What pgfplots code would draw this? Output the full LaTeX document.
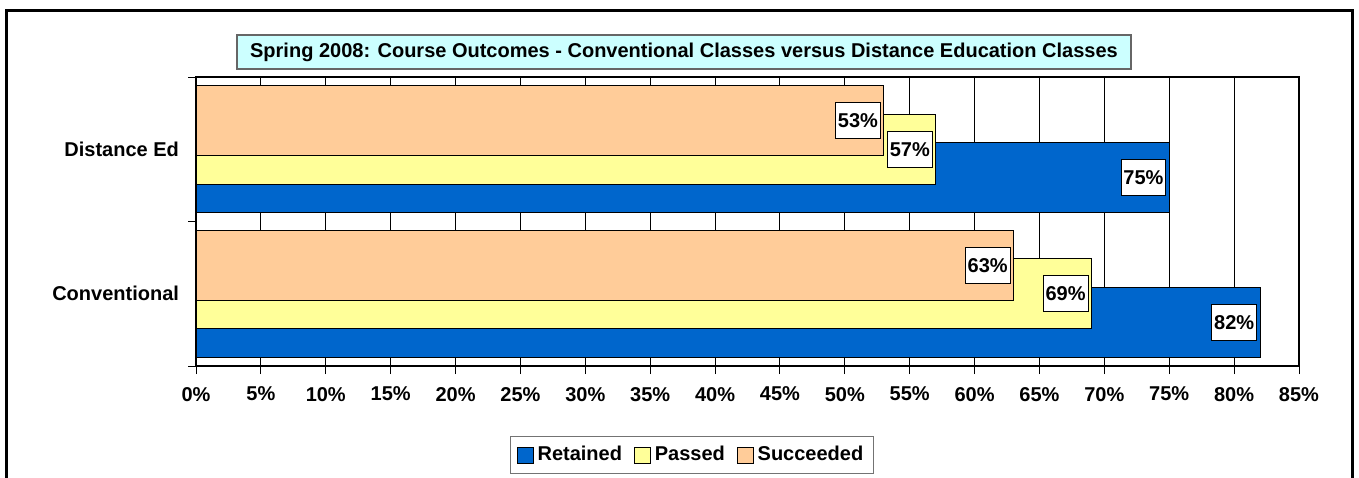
\documentclass[border=0pt]{standalone}
\usepackage{fontspec}
\setmainfont{Liberation Sans}
\usepackage{pgfplots}
\pgfplotsset{compat=1.18}

\definecolor{retblue}{HTML}{0066CC}
\definecolor{passyel}{HTML}{FFFF99}
\definecolor{succpeach}{HTML}{FFCC99}
\definecolor{titlecyan}{HTML}{CCFFFF}

\pgfplotsset{
    valuebox/.style={
        every node near coord/.append style={
            anchor=east, xshift=-1.5pt,
            draw=black, fill=white, line width=0.4pt,
            font=\fontsize{10}{12}\bfseries,
            inner xsep=1.2pt, inner ysep=0pt, minimum height=18pt}
    }
}

\begin{document}
\begin{tikzpicture}
\useasboundingbox (0,0) rectangle (679.5pt,238.5pt);
\clip (0,0) rectangle (679.5pt,238.5pt);
\begin{axis}[
    at={(98pt,55.5pt)}, anchor=south west,
    scale only axis,
    width=551.5pt, height=144.5pt,
    xbar,
    bar width=0.484,
    xmin=0, xmax=85,
    ymin=-0.5, ymax=1.5,
    xtick={0,5,...,85},
    xticklabel={\pgfmathprintnumber{\tick}\%},
    ytick={-0.5,0.5,1.5},
    yticklabels={,,},
    extra y ticks={0,1},
    extra y tick labels={Conventional,Distance Ed},
    extra y tick style={major tick length=0pt, yticklabel style={xshift=-5pt}},
    xtick pos=bottom, ytick pos=left,
    tick align=outside,
    major tick length=4pt,
    tick style={black, line width=0.5pt},
    xmajorgrids,
    major grid style={black, line width=0.5pt},
    axis line style={black, line width=0.6pt},
    /pgf/number format/assume math mode=true,
    ticklabel style={font=\fontsize{10}{12}\bfseries},
    xticklabel style={yshift=-3pt},
    point meta=x,
    nodes near coords={\pgfmathprintnumber{\pgfplotspointmeta}\%},
    legend columns=3,
    legend image code/.code={\draw[#1, draw=black, line width=0.4pt] (0pt,-4pt) rectangle (8pt,4pt);},
    legend style={
        at={(0.4497,-0.308)}, anchor=center,
        draw=black!55, line width=0.6pt,
        font=\fontsize{10}{12}\bfseries,
        inner xsep=3pt, inner ysep=3pt,
        /tikz/every even column/.append style={column sep=4pt}
    },
]

% Retained
\addplot[fill=retblue, draw=black, line width=0.4pt, bar shift=-0.197, valuebox] coordinates {
    (82,0) (75,1)
};
% Passed
\addplot[fill=passyel, draw=black, line width=0.4pt, bar shift=0, valuebox] coordinates {
    (69,0) (57,1)
};
% Succeeded
\addplot[fill=succpeach, draw=black, line width=0.4pt, bar shift=0.197, valuebox] coordinates {
    (63,0) (53,1)
};

\legend{Retained, Passed, Succeeded}
\end{axis}

% title box
\node[draw=black!60, line width=0.6pt, fill=titlecyan, minimum width=447pt, minimum height=17pt,
      inner sep=0pt, font=\fontsize{10}{12}\bfseries] at (342pt,212.5pt)
      {Spring 2008: Course Outcomes - Conventional Classes versus Distance Education Classes};

% outer chart border
\draw[black, line width=1.5pt] (3pt,-10pt) rectangle (676pt,233pt);
\end{tikzpicture}
\end{document}
